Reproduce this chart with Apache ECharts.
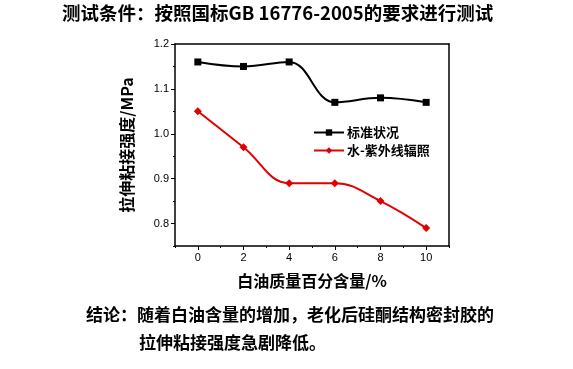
<!DOCTYPE html>
<html><head><meta charset="utf-8">
<script src="https://cdn.jsdelivr.net/npm/echarts@6/dist/echarts.min.js"></script>
<style>html,body{margin:0;padding:0;background:#fff}#c{width:573px;height:369px}</style>
</head><body><div id="c"></div>
<script>
const xValues = [0, 2, 4, 6, 8, 10];
const standardSeries = [1.16, 1.15, 1.16, 1.07, 1.08, 1.07];
const uvSeries = [1.05, 0.97, 0.89, 0.89, 0.85, 0.79];
const xTickLabels = [0, 2, 4, 6, 8, 10];
const xMinorTicks = [-1, 1, 3, 5, 7, 9, 11];
const yTickLabels = [0.8, 0.9, 1.0, 1.1, 1.2];
const yMinorTicks = [0.75, 0.85, 0.95, 1.05, 1.15];
const seriesNames = ['标准状况', '水-紫外线辐照'];

const cjk = '"Noto Sans CJK SC", "Liberation Sans", sans-serif';
const lat = '"Liberation Sans", Arial, sans-serif';
const chart = echarts.init(document.getElementById('c'), null, {renderer: 'canvas'});
const axisLineStyle = {color: '#000', width: 1.5};
chart.setOption({
  animation: false,
  backgroundColor: '#fff',
  title: [
    {text: '测试条件：按照国标GB 16776-2005的要求进行测试', left: 57, top: -1,
     textStyle: {fontFamily: cjk, fontWeight: 'bold', fontSize: 18.5, color: '#000'}},
    {text: '结论：随着白油含量的增加，老化后硅酮结构密封胶的', left: 81, top: 301,
     textStyle: {fontFamily: cjk, fontWeight: 'bold', fontSize: 17, color: '#000'}},
    {text: '拉伸粘接强度急剧降低。', left: 134, top: 329,
     textStyle: {fontFamily: cjk, fontWeight: 'bold', fontSize: 17, color: '#000'}}
  ],
  grid: {left: 175, top: 44, right: 124, bottom: 123, containLabel: false},
  legend: {
    data: seriesNames, orient: 'vertical', left: 308, top: 121, itemWidth: 30, itemHeight: 8, itemGap: 5,
    textStyle: {fontFamily: cjk, fontWeight: 'bold', fontSize: 13, color: '#000', padding: [0,0,0,-2]}
  },
  xAxis: [
    {type: 'value', min: -1, max: 11, position: 'bottom',
     axisLine: {show: true, onZero: false, lineStyle: axisLineStyle},
     axisTick: {show: true, customValues: xTickLabels, length: 4, lineStyle: {color: '#000'}},
     axisLabel: {customValues: xTickLabels, fontFamily: lat, fontSize: 11, color: '#000', margin: 6},
     splitLine: {show: false},
     name: '白油质量百分含量/%', nameLocation: 'middle', nameGap: 27,
     nameTextStyle: {fontFamily: cjk, fontWeight: 'bold', fontSize: 16, color: '#000'}},
    {type: 'value', min: -1, max: 11, position: 'bottom',
     axisLine: {show: false, onZero: false},
     axisTick: {show: true, customValues: xMinorTicks, length: 2, lineStyle: {color: '#000'}},
     axisLabel: {show: false}, splitLine: {show: false}},
    {type: 'value', min: -1, max: 11, position: 'top',
     axisLine: {show: true, onZero: false, lineStyle: axisLineStyle},
     axisTick: {show: false}, axisLabel: {show: false}, splitLine: {show: false}}
  ],
  yAxis: [
    {type: 'value', min: 0.75, max: 1.2, position: 'left',
     axisLine: {show: true, onZero: false, lineStyle: axisLineStyle},
     axisTick: {show: true, customValues: yTickLabels, length: 4, lineStyle: {color: '#000'}},
     axisLabel: {customValues: yTickLabels, fontFamily: lat, fontSize: 11, color: '#000', margin: 6,
       formatter: v => v.toFixed(1)},
     splitLine: {show: false},
     name: '拉伸粘接强度/MPa', nameLocation: 'middle', nameGap: 40, nameRotate: 90,
     nameTextStyle: {fontFamily: cjk, fontWeight: 'bold', fontSize: 16, color: '#000'}},
    {type: 'value', min: 0.75, max: 1.2, position: 'left',
     axisLine: {show: false, onZero: false},
     axisTick: {show: true, customValues: yMinorTicks, length: 2, lineStyle: {color: '#000'}},
     axisLabel: {show: false}, splitLine: {show: false}},
    {type: 'value', min: 0.75, max: 1.2, position: 'right',
     axisLine: {show: true, onZero: false, lineStyle: axisLineStyle},
     axisTick: {show: false}, axisLabel: {show: false}, splitLine: {show: false}}
  ],
  series: [
    {name: seriesNames[0], type: 'line', smooth: 0.4, symbol: 'rect', symbolSize: 7,
     data: xValues.map((x, i) => [x, standardSeries[i]]),
     lineStyle: {color: '#000', width: 2}, itemStyle: {color: '#000'}},
    {name: seriesNames[1], type: 'line', smooth: 0.4, symbol: 'diamond', symbolSize: 8,
     data: xValues.map((x, i) => [x, uvSeries[i]]),
     lineStyle: {color: '#e00000', width: 2}, itemStyle: {color: '#e00000'}}
  ]
});
</script></body></html>
